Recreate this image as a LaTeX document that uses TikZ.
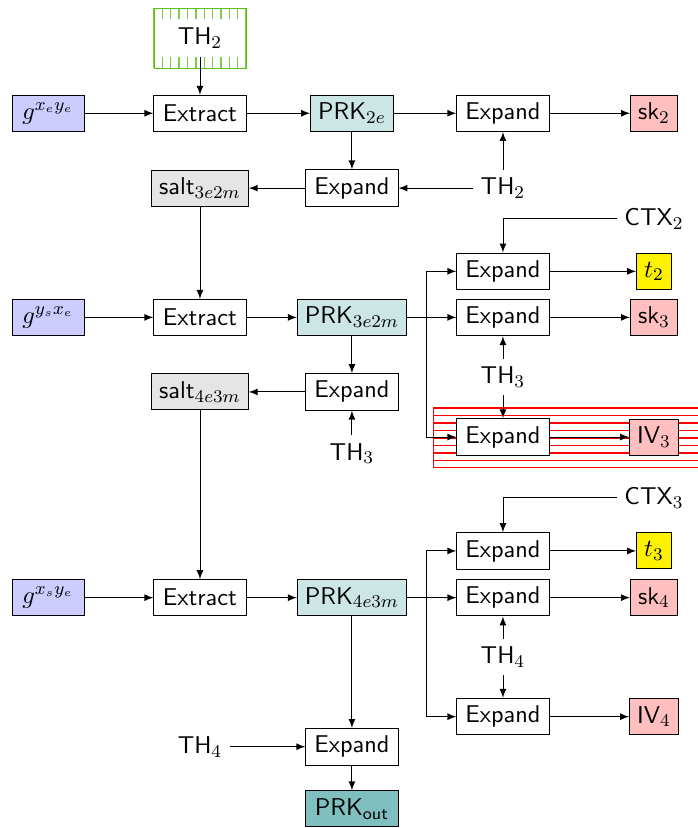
\documentclass[tikz,border=0pt]{standalone}
\usepackage{amsmath}

\definecolor{thgreen}{RGB}{90,190,20}

\tikzset{
  box/.style={draw, fill=white, minimum width=41pt, minimum height=16pt},
  dh/.style={draw, fill=blue!20, minimum width=32pt, minimum height=16pt},
  prk/.style={draw, fill=teal!20, minimum height=16pt},
  saltbox/.style={draw, fill=gray!20, minimum height=16pt},
  keybox/.style={draw, fill=red!25, minimum height=16pt},
  tagbox/.style={draw, fill=yellow, minimum height=16pt},
}

\begin{document}
\begin{tikzpicture}[>=latex, font=\sffamily\fontsize{10.8pt}{13pt}\selectfont]
    \useasboundingbox (0,0) rectangle (10.906,-12.94);

    % highlighted regions
    \foreach \x in {2.406,2.537,...,3.85}
      \draw[thgreen!80, line width=0.6pt] (\x,-0.125) -- (\x,-1.0625);
    \draw[thgreen] (2.406,-0.125) rectangle (3.844,-1.0625);
    \foreach \y in {-6.375,-6.492,...,-7.32}
      \draw[red, line width=0.6pt] (6.77,\y) -- (11.2,\y);
    \draw[red] (6.77,-6.375) rectangle (11.2,-7.31);

    % message 2
    \node[fill=white, minimum width=34pt, minimum height=17pt] (TH2A) at (3.125,-0.59) {TH$_2$};
    \node[dh] (G2) at (0.75,-1.77) {$g^{x_e y_e}$};
    \node[box] (EXT2) at (3.125,-1.77) {Extract};
    \node[prk] (PRK2) at (5.5,-1.77) {PRK$_{2e}$};
    \node[box] (EXP2A) at (7.86,-1.77) {Expand};
    \node[keybox] (SK2) at (10.22,-1.77) {sk$_2$};
    \node[saltbox] (SALT2) at (3.125,-2.94) {salt$_{3e2m}$};
    \node[box] (EXP2B) at (5.5,-2.94) {Expand};
    \node (TH2B) at (7.86,-2.94) {TH$_2$};

    % message 3
    \node (CTX2) at (10.22,-3.42) {CTX$_2$};
    \node[box] (EXP3A) at (7.86,-4.24) {Expand};
    \node[tagbox] (T2) at (10.22,-4.24) {$t_2$};
    \node[dh] (G3) at (0.75,-4.96) {$g^{y_s x_e}$};
    \node[box] (EXT3) at (3.125,-4.96) {Extract};
    \node[prk] (PRK3) at (5.5,-4.96) {PRK$_{3e2m}$};
    \node[box] (EXP3B) at (7.86,-4.96) {Expand};
    \node[keybox] (SK3) at (10.22,-4.96) {sk$_3$};
    \node (TH3A) at (7.86,-5.89) {TH$_3$};
    \node[saltbox] (SALT3) at (3.125,-6.125) {salt$_{4e3m}$};
    \node[box] (EXP3C) at (5.5,-6.125) {Expand};
    \node (TH3B) at (5.5,-7.09) {TH$_3$};
    \node[box] (EXP3D) at (7.86,-6.83) {Expand};
    \node[keybox] (IV3) at (10.22,-6.83) {IV$_3$};
    \coordinate (S3) at (6.67,-4.96);

    % message 4
    \node (CTX3) at (10.22,-7.78) {CTX$_3$};
    \node[box] (EXP4A) at (7.86,-8.61) {Expand};
    \node[tagbox] (T3) at (10.22,-8.61) {$t_3$};
    \node[dh] (G4) at (0.75,-9.34) {$g^{x_s y_e}$};
    \node[box] (EXT4) at (3.125,-9.34) {Extract};
    \node[prk] (PRK4) at (5.5,-9.34) {PRK$_{4e3m}$};
    \node[box] (EXP4B) at (7.86,-9.34) {Expand};
    \node[keybox] (SK4) at (10.22,-9.34) {sk$_4$};
    \node (TH4A) at (7.86,-10.27) {TH$_4$};
    \node[box] (EXP4D) at (7.86,-11.2) {Expand};
    \node[keybox] (IV4) at (10.22,-11.2) {IV$_4$};
    \node (TH4B) at (3.125,-11.67) {TH$_4$};
    \node[box] (EXP4C) at (5.5,-11.67) {Expand};
    \node[box, fill=teal!50] (PRKOUT) at (5.5,-12.64) {PRK$_{\textsf{out}}$};
    \coordinate (S4) at (6.67,-9.34);

    \draw[->] (TH2A) -- (EXT2);
    \draw[->] (G2) -- (EXT2);
    \draw[->] (EXT2) -- (PRK2);
    \draw[->] (PRK2) -- (EXP2A);
    \draw[->] (EXP2A) -- (SK2);
    \draw[->] (PRK2) -- (EXP2B);
    \draw[->] (EXP2B) -- (SALT2);
    \draw[->] (TH2B) -- (EXP2B);
    \draw[->] (TH2B) -- (EXP2A);
    \draw[->] (SALT2) -- (EXT3);

    \draw[->] (CTX2) -| (EXP3A);
    \draw[->] (G3) -- (EXT3);
    \draw[->] (EXT3) -- (PRK3);
    \draw (PRK3) -- (S3);
    \draw[->] (S3) |- (EXP3A);
    \draw[->] (S3) -- (EXP3B);
    \draw[->] (S3) |- (EXP3D);
    \draw[->] (EXP3A) -- (T2);
    \draw[->] (EXP3B) -- (SK3);
    \draw[->] (EXP3D) -- (IV3);
    \draw[->] (TH3A) -- (EXP3B);
    \draw[->] (TH3A) -- (EXP3D);
    \draw[->] (PRK3) -- (EXP3C);
    \draw[->] (EXP3C) -- (SALT3);
    \draw[->] (TH3B) -- (EXP3C);
    \draw[->] (SALT3) -- (EXT4);

    \draw[->] (CTX3) -| (EXP4A);
    \draw[->] (G4) -- (EXT4);
    \draw[->] (EXT4) -- (PRK4);
    \draw (PRK4) -- (S4);
    \draw[->] (S4) |- (EXP4A);
    \draw[->] (S4) -- (EXP4B);
    \draw[->] (S4) |- (EXP4D);
    \draw[->] (EXP4A) -- (T3);
    \draw[->] (EXP4B) -- (SK4);
    \draw[->] (EXP4D) -- (IV4);
    \draw[->] (TH4A) -- (EXP4B);
    \draw[->] (TH4A) -- (EXP4D);
    \draw[->] (PRK4) -- (EXP4C);
    \draw[->] (TH4B) -- (EXP4C);
    \draw[->] (EXP4C) -- (PRKOUT);
\end{tikzpicture}
\end{document}
